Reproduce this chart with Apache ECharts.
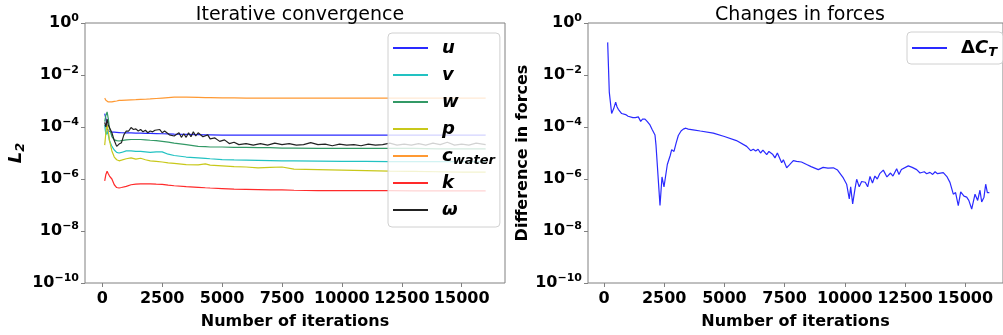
<!DOCTYPE html>
<html>
<head>
<meta charset="utf-8">
<script src="https://cdn.jsdelivr.net/npm/echarts@6/dist/echarts.min.js"></script>
<style>
  html, body { margin: 0; padding: 0; background: #fff; }
  #chart { width: 1003px; height: 335px; }
</style>
</head>
<body>
<div id="chart"></div>
<script>
// ---- Residual histories (L2 norms) ----
const iterSmooth = [100, 150, 200, 250, 300, 400, 500, 600, 700, 800, 1000, 1200, 1400, 1600, 1800, 2000,
  2250, 2500, 2750, 3000, 3500, 4000, 4300, 4500, 5000, 5500, 6000, 6500, 7000, 7500, 8000, 9000, 10000,
  11000, 12000, 13000, 14000, 15000, 16000];

const resU = [3.3e-4, 2.1e-4, 9e-5, 7e-5, 6.6e-5, 6.4e-5, 6.3e-5, 6.2e-5, 6.1e-5, 6.0e-5, 5.9e-5, 5.9e-5, 5.8e-5, 5.8e-5, 5.7e-5, 5.7e-5,
  5.6e-5, 5.5e-5, 5.4e-5, 5.3e-5, 5.2e-5, 5.1e-5, 5.0e-5, 5.0e-5, 4.9e-5, 4.9e-5, 4.9e-5, 4.9e-5, 4.9e-5, 4.9e-5, 4.9e-5, 4.9e-5, 4.9e-5,
  4.9e-5, 4.9e-5, 4.9e-5, 4.9e-5, 4.9e-5, 4.9e-5];

const resV = [1.2e-4, 5e-5, 7e-5, 5e-5, 3e-5, 1.8e-5, 1.3e-5, 1.05e-5, 1.0e-5, 1.05e-5, 1.2e-5, 1.2e-5, 1.15e-5, 1.15e-5, 1.1e-5, 1.05e-5,
  1.1e-5, 1.1e-5, 9e-6, 8e-6, 7e-6, 6.5e-6, 6.2e-6, 6e-6, 5.6e-6, 5.4e-6, 5.3e-6, 5.2e-6, 5.1e-6, 5.0e-6, 5.0e-6, 4.9e-6, 4.8e-6,
  4.8e-6, 4.7e-6, 4.7e-6, 4.7e-6, 4.7e-6, 4.7e-6];

const resW = [1.6e-4, 2.8e-4, 3.8e-4, 2.1e-4, 9e-5, 4.3e-5, 3.2e-5, 3.0e-5, 2.9e-5, 3.0e-5, 3.2e-5, 3.3e-5, 3.3e-5, 3.3e-5, 3.2e-5, 3.1e-5,
  3.0e-5, 2.8e-5, 2.6e-5, 2.4e-5, 2.1e-5, 1.8e-5, 1.75e-5, 1.7e-5, 1.7e-5, 1.65e-5, 1.65e-5, 1.6e-5, 1.6e-5, 1.55e-5, 1.55e-5, 1.5e-5, 1.5e-5,
  1.5e-5, 1.5e-5, 1.5e-5, 1.45e-5, 1.45e-5, 1.45e-5];

const resP = [2e-5, 6e-5, 1.2e-4, 7e-5, 3e-5, 1.2e-5, 7e-6, 5.5e-6, 5e-6, 5.3e-6, 6e-6, 6.5e-6, 5.8e-6, 6.3e-6, 5.5e-6, 5e-6,
  4.8e-6, 4.5e-6, 4.2e-6, 4e-6, 3.6e-6, 3.5e-6, 3.8e-6, 3.4e-6, 3.2e-6, 3.0e-6, 2.9e-6, 2.7e-6, 2.8e-6, 2.9e-6, 2.4e-6, 2.3e-6, 2.2e-6,
  2.1e-6, 2.0e-6, 1.95e-6, 1.9e-6, 1.85e-6, 1.85e-6];

const resC = [1.29e-3, 1.07e-3, 9.5e-4, 9.2e-4, 9.1e-4, 9.3e-4, 9.7e-4, 1.0e-3, 1.05e-3, 1.06e-3, 1.08e-3, 1.1e-3, 1.12e-3, 1.15e-3, 1.17e-3, 1.2e-3,
  1.25e-3, 1.3e-3, 1.35e-3, 1.4e-3, 1.4e-3, 1.37e-3, 1.35e-3, 1.35e-3, 1.33e-3, 1.32e-3, 1.3e-3, 1.3e-3, 1.3e-3, 1.3e-3, 1.3e-3, 1.3e-3, 1.3e-3,
  1.3e-3, 1.3e-3, 1.3e-3, 1.3e-3, 1.3e-3, 1.3e-3];

const resK = [8.5e-7, 1.5e-6, 2.0e-6, 1.6e-6, 1.3e-6, 1.0e-6, 6e-7, 4.7e-7, 4.5e-7, 4.7e-7, 5.2e-7, 6e-7, 6.4e-7, 6.5e-7, 6.5e-7, 6.5e-7,
  6.3e-7, 6.2e-7, 5.8e-7, 5.5e-7, 5.1e-7, 4.8e-7, 4.6e-7, 4.5e-7, 4.3e-7, 4.1e-7, 4.0e-7, 3.9e-7, 3.8e-7, 3.8e-7, 3.7e-7, 3.6e-7, 3.6e-7,
  3.6e-7, 3.6e-7, 3.5e-7, 3.5e-7, 3.5e-7, 3.5e-7];

const iterOmega = [100, 150, 200, 250, 300, 400, 500, 600, 700, 800, 900, 1000, 1100, 1200, 1300, 1400, 1500, 1600, 1700, 1800,
  1900, 2000, 2100, 2200, 2400, 2500, 2600, 2800, 3000, 3200, 3300, 3400, 3500, 3600, 3700, 3800, 3900, 4000, 4200, 4400,
  4500, 4700, 4900, 5100, 5300, 5500, 5700, 6000, 6300, 6600, 6900, 7200, 7500, 7800, 8100, 8400, 8700, 9000, 9300, 9600,
  9900, 10200, 10500, 10800, 11100, 11400, 11700, 12000, 12300, 12600, 12900, 13200, 13500, 13800, 14100, 14400, 14700, 15000, 15300, 15600, 16000];

const resOmega = [1.5e-4, 1.0e-4, 2.0e-4, 1.2e-4, 1.3e-4, 6e-5, 3e-5, 1.8e-5, 2.2e-5, 2.5e-5, 5e-5, 7e-5, 7e-5, 9.5e-5, 8e-5, 8.5e-5, 7e-5, 8e-5, 6.5e-5, 7.5e-5,
  6e-5, 7e-5, 6.5e-5, 7.5e-5, 8e-5, 6e-5, 7e-5, 5e-5, 4.5e-5, 6e-5, 4e-5, 5.5e-5, 4e-5, 6e-5, 4.2e-5, 6.5e-5, 4.5e-5, 6e-5, 4.2e-5, 5e-5,
  3.5e-5, 3.8e-5, 2.8e-5, 3.2e-5, 2.3e-5, 2.6e-5, 2.1e-5, 2.3e-5, 2.0e-5, 2.3e-5, 2.0e-5, 2.4e-5, 2.1e-5, 2.3e-5, 2.0e-5, 2.1e-5, 2.5e-5, 2.1e-5, 2.2e-5, 1.9e-5,
  2.2e-5, 2.0e-5, 2.1e-5, 1.9e-5, 2.2e-5, 2.0e-5, 2.1e-5, 2.4e-5, 2.0e-5, 2.2e-5, 2.0e-5, 2.3e-5, 2.0e-5, 2.4e-5, 2.1e-5, 2.6e-5, 2.0e-5, 2.2e-5, 2.0e-5, 2.4e-5, 2.1e-5];

// ---- Thrust coefficient change between iterations ----
const iterForce = [153, 220, 318, 400, 485, 540, 595, 650, 734, 800, 900, 1000, 1080, 1200, 1300, 1425, 1524, 1600, 1703, 1800,
  1910, 2000, 2118, 2160, 2243, 2326, 2409, 2492, 2630, 2750, 2811, 2907, 3000, 3087, 3200, 3293, 3400, 3501, 3700, 4000,
  4540, 5000, 5500, 5925, 6092, 6200, 6300, 6400, 6500, 6600, 6757, 6850, 7000, 7100, 7200, 7379, 7450, 7586, 7700, 7863,
  8000, 8200, 8417, 8600, 8900, 9100, 9300, 9523, 9700, 9938, 10077, 10186, 10244, 10327, 10420, 10493, 10600, 10700, 10850, 10950,
  11047, 11150, 11250, 11350, 11450, 11600, 11750, 11900, 12000, 12154, 12250, 12350, 12637, 12800, 12985, 13124, 13300, 13400, 13538, 13650,
  13750, 13850, 14090, 14250, 14367, 14506, 14600, 14713, 14813, 14950, 15062, 15150, 15270, 15408, 15518, 15614, 15685, 15780, 15851, 15920, 16003];

const deltaCT = [0.18, 2.2e-3, 3.3e-4, 5e-4, 9e-4, 6e-4, 4.8e-4, 5e-4, 3.3e-4, 3.5e-4, 3e-4, 2.6e-4, 2.25e-4, 2.3e-4, 2.3e-4, 2.45e-4, 1.65e-4, 2.0e-4, 2.0e-4, 1.6e-4,
  1.2e-4, 8e-5, 4.9e-5, 2.0e-5, 2.1e-5, 9.5e-8, 1.2e-6, 5e-7, 3.6e-6, 8e-6, 1.35e-5, 1.15e-5, 2.5e-5, 4.7e-5, 7e-5, 8.3e-5, 9e-5, 8.3e-5, 7.8e-5, 7e-5,
  5.8e-5, 4.3e-5, 3.0e-5, 1.8e-5, 1.23e-5, 1.4e-5, 1.2e-5, 1.4e-5, 1.0e-5, 1.3e-5, 8.7e-6, 1.15e-5, 9e-6, 6.5e-6, 1.0e-5, 4.2e-6, 5.5e-6, 2.7e-6, 3.5e-6, 5.1e-6,
  4.8e-6, 4.5e-6, 3.6e-6, 3.0e-6, 2.3e-6, 2.8e-6, 2.6e-6, 2.7e-6, 2.2e-6, 1.1e-6, 6.3e-7, 1.7e-7, 5e-7, 1.1e-7, 4e-7, 9.8e-7, 5e-7, 8e-7, 7.5e-7, 5e-7,
  1.25e-6, 7e-7, 1.3e-6, 1.0e-6, 1.6e-6, 2.2e-6, 1.2e-6, 1.7e-6, 1.3e-6, 2.5e-6, 1.5e-6, 2.3e-6, 3.2e-6, 2.8e-6, 2.3e-6, 1.7e-6, 1.9e-6, 1.6e-6, 1.8e-6, 1.5e-6,
  1.9e-6, 1.6e-6, 1.75e-6, 1.2e-6, 7.4e-7, 2.6e-7, 3.0e-7, 9.5e-8, 3.2e-7, 2.2e-7, 2.0e-7, 1.5e-7, 7e-8, 2.6e-7, 1.5e-7, 3.7e-7, 1.3e-7, 2.0e-7, 6.3e-7, 3.0e-7, 3.0e-7];

const xTicks = [0, 2500, 5000, 7500, 10000, 12500, 15000];

// ---- Chart setup ----
const FONT = 'DejaVu Sans';
const zip = (xs, ys) => xs.map((x, i) => [x, ys[i]]);

const tickRich = {
  b: { fontFamily: FONT, fontWeight: 'bold', fontSize: 16, color: '#000', lineHeight: 20 },
  s: { fontFamily: FONT, fontWeight: 'bold', fontSize: 11, color: '#000', lineHeight: 10, verticalAlign: 'top' }
};
const logLabel = v => {
  const e = Math.round(Math.log10(v));
  return '{b|10}{s|' + (e < 0 ? '\u2212' + (-e) : e) + '}';
};

const mathRich = {
  i: { fontFamily: FONT, fontWeight: 'bold', fontStyle: 'italic', fontSize: 18, color: '#000', lineHeight: 22, verticalAlign: 'middle' },
  r: { fontFamily: FONT, fontWeight: 'bold', fontSize: 18, color: '#000', lineHeight: 22, verticalAlign: 'middle' },
  sub: { fontFamily: FONT, fontWeight: 'bold', fontStyle: 'italic', fontSize: 13, color: '#000', lineHeight: 12, verticalAlign: 'bottom' }
};

const legendNames = {
  'u': '{i|u}', 'v': '{i|v}', 'w': '{i|w}', 'p': '{i|p}',
  'c_water': '{i|c}{sub|water}', 'k': '{i|k}', 'omega': '{i|\u03c9}',
  'dCT': '{r|\u0394}{i|C}{sub|T}'
};

function xAxisCfg(gridIndex, min, max) {
  return {
    type: 'value', gridIndex, min, max,
    splitLine: { show: false },
    axisLine: { show: false, onZero: false },
    axisTick: { show: true, length: 4, customValues: xTicks, lineStyle: { color: '#808080' } },
    axisLabel: { customValues: xTicks, margin: 8, hideOverlap: false, showMinLabel: true, showMaxLabel: true,
      formatter: v => String(v),
      fontFamily: FONT, fontWeight: 'bold', fontSize: 16, color: '#000' },
    name: 'Number of iterations', nameLocation: 'middle', nameGap: 31,
    nameTextStyle: { fontFamily: FONT, fontWeight: 'bold', fontSize: 16, color: '#000' }
  };
}

function yAxisCfg(gridIndex, name, nameGap, nameStyle) {
  return {
    type: 'log', logBase: 10, gridIndex, min: 1e-10, max: 1, interval: 2,
    splitLine: { show: false },
    minorTick: { show: false },
    axisLine: { show: false, onZero: false },
    axisTick: { show: true, length: 4, lineStyle: { color: '#808080' } },
    axisLabel: { margin: 6, formatter: logLabel, rich: tickRich },
    name, nameLocation: 'middle', nameGap, nameRotate: 90,
    nameTextStyle: nameStyle
  };
}

function lineSeries(name, data, color, xi) {
  return {
    type: 'line', name, data, xAxisIndex: xi, yAxisIndex: xi,
    showSymbol: false, symbol: 'none', smooth: false,
    lineStyle: { color, width: 1.2 }, itemStyle: { color },
    emphasis: { disabled: true }, animation: false
  };
}

const legendBase = {
  orient: 'vertical', icon: 'rect', itemWidth: 35, itemHeight: 2, itemGap: 5,
  backgroundColor: 'rgba(255,255,255,0.8)', borderColor: '#d0d0d0', borderWidth: 1, borderRadius: 4,
  formatter: n => legendNames[n],
  textStyle: { padding: [0, 0, 0, 9], lineHeight: 20, rich: mathRich },
  selectedMode: false
};

const chart = echarts.init(document.getElementById('chart'), null, { renderer: 'canvas' });
chart.setOption({
  animation: false,
  title: [
    { text: 'Iterative convergence', left: 295, top: 1, textAlign: 'center',
      textStyle: { fontFamily: FONT, fontWeight: 'normal', fontSize: 19, color: '#000' } },
    { text: 'Changes in forces', left: 795, top: 1, textAlign: 'center',
      textStyle: { fontFamily: FONT, fontWeight: 'normal', fontSize: 19, color: '#000' } }
  ],
  grid: [
    { left: 85, top: 23, width: 420, height: 264, show: true, borderColor: '#808080', borderWidth: 1, backgroundColor: 'transparent' },
    { left: 588, top: 23, width: 415, height: 264, show: true, borderColor: '#808080', borderWidth: 1, backgroundColor: 'transparent' }
  ],
  xAxis: [xAxisCfg(0, -722, 16807), xAxisCfg(1, -664, 16570)],
  yAxis: [
    yAxisCfg(0, '{i|L}{sub|2}', 58, { rich: mathRich }),
    yAxisCfg(1, 'Difference in forces', 57, { fontFamily: FONT, fontWeight: 'bold', fontSize: 16, color: '#000' })
  ],
  legend: [
    Object.assign({}, legendBase, { left: 388, top: 33, padding: [4, 5, 6, 5],
      data: ['u', 'v', 'w', 'p', 'c_water', 'k', 'omega'] }),
    Object.assign({}, legendBase, { left: 907, top: 32, padding: [5, 6, 5, 5], data: ['dCT'] })
  ],
  series: [
    lineSeries('u', zip(iterSmooth, resU), '#2a2aff', 0),
    lineSeries('v', zip(iterSmooth, resV), '#22c2c2', 0),
    lineSeries('w', zip(iterSmooth, resW), '#339966', 0),
    lineSeries('p', zip(iterSmooth, resP), '#c8c81a', 0),
    lineSeries('c_water', zip(iterSmooth, resC), '#ff9933', 0),
    lineSeries('k', zip(iterSmooth, resK), '#ff2a2a', 0),
    lineSeries('omega', zip(iterOmega, resOmega), '#222222', 0),
    lineSeries('dCT', zip(iterForce, deltaCT), '#2a2aff', 1)
  ]
});
</script>
</body>
</html>
